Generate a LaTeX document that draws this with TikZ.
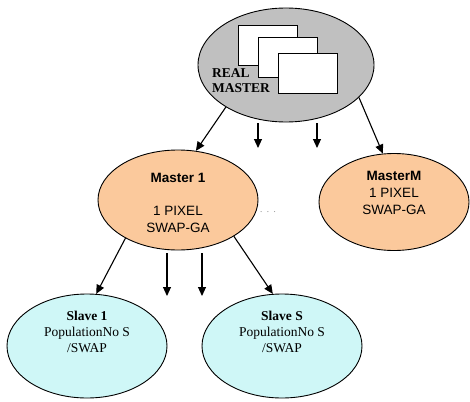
\documentclass[tikz,border=0pt]{standalone}
\usepackage{fontspec}
\setmainfont{Liberation Serif}
\setsansfont{Liberation Sans}
\usetikzlibrary{shapes.geometric,arrows.meta}

\definecolor{realgray}{HTML}{C0C0C0}
\definecolor{masterpeach}{HTML}{FBC99C}
\definecolor{slavecyan}{HTML}{CFF7F7}

\tikzset{
  realnode/.style={ellipse,draw,line width=0.9pt,fill=realgray,minimum width=176pt,minimum height=114pt,inner sep=0pt},
  masternode/.style={ellipse,draw,line width=0.9pt,fill=masterpeach,minimum width=160pt,minimum height=100pt,inner sep=0pt},
  slavenode/.style={ellipse,draw,line width=0.9pt,fill=slavecyan,minimum width=160pt,minimum height=104pt,inner sep=0pt},
  window/.style={draw,line width=0.8pt,fill=white,minimum width=59pt,minimum height=40pt,inner sep=0pt},
  flow/.style={-{Triangle[length=9pt,width=8pt]},line width=1.1pt},
  mtext/.style={font=\sffamily\fontsize{13.5}{17}\selectfont,align=center},
  stext/.style={font=\fontsize{13.5}{16}\selectfont,align=center}
}

\begin{document}
\begin{tikzpicture}[x=1pt,y=-1pt]
			%\draw [help lines] (0,0) grid (470,401);
			\useasboundingbox (0,0) rectangle (470,401);
			\node[realnode] (real) at (286,65) {};
			\node[window] (win1) at (267.5,45.5) {};
			\node[window] (win2) at (287.5,57) {};
			\node[window] (win3) at (307.5,73) {};
			\node[font=\bfseries\fontsize{13.5}{15}\selectfont,align=left,inner sep=0pt] (reallabel) at (241,81) {REAL\\MASTER};
			\node[masternode] (m1) at (178,200) {};
			\node[mtext] at (178,178) {\textbf{Master 1}};
			\node[mtext] at (178,219) {1 PIXEL\\SWAP-GA};
			\node[masternode,minimum width=150pt,minimum height=97pt] (mm) at (394,202) {};
			\node[mtext] at (394,193) {\textbf{MasterM}\\1 PIXEL\\SWAP-GA};
			\node[text=gray,font=\small] (dots) at (268,212) {.\ \ .\ \ .};
			\node[slavenode] (s1) at (87,346) {};
			\node[stext] at (87,332) {\textbf{Slave 1}\\PopulationNo S\\/SWAP};
			\node[slavenode] (ss) at (282,346) {};
			\node[stext] at (282,332) {\textbf{Slave S}\\PopulationNo S\\/SWAP};
			\coordinate (ra) at (258,123);
			\coordinate (rb) at (258,148);
			\coordinate (rc) at (317,123);
			\coordinate (rd) at (317,148);
			\coordinate (ma) at (167,253);
			\coordinate (mb) at (167,296);
			\coordinate (mc) at (202,253);
			\coordinate (md) at (202,296);
			\draw[flow] (real.215) -- (m1.70);
			\draw[flow] (real.336) -- (mm.103);
			\draw[flow] (ra) -- (rb);
			\draw[flow] (rc) -- (rd);
			\draw[flow] (m1.216) -- (s1.80);
			\draw[flow] (m1.327) -- (ss.100);
			\draw[flow] (ma) -- (mb);
			\draw[flow] (mc) -- (md);
		\end{tikzpicture}
\end{document}
